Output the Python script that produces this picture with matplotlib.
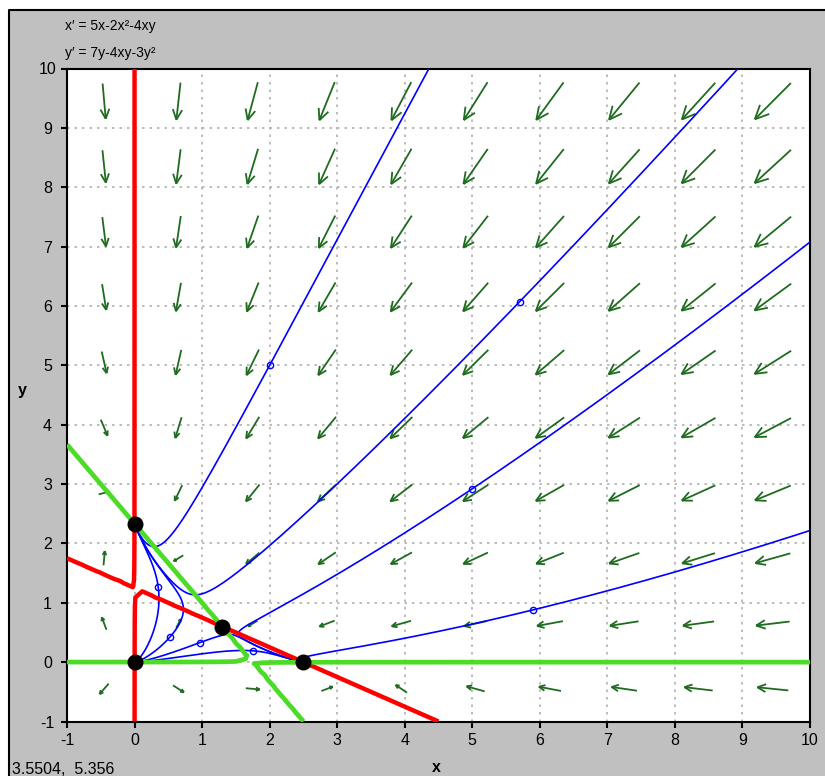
import numpy as np
import matplotlib.pyplot as plt
from matplotlib.collections import LineCollection
from matplotlib.patches import Rectangle
from matplotlib.lines import Line2D

plt.rcParams['font.family'] = ['Liberation Sans', 'DejaVu Sans']
plt.rcParams['axes.unicode_minus'] = False

# system: x' = 5x-2x^2-4xy , y' = 7y-4xy-3y^2
def fx(x, y):
    return 5 * x - 2 * x**2 - 4 * x * y

def fy(x, y):
    return 7 * y - 4 * x * y - 3 * y**2

# equilibrium points
eq_x = [0.0, 0.0, 1.3, 2.5]
eq_y = [0.0, 7 / 3, 0.6, 0.0]

# starting points of the solution curves
start_x = [2.0, 5.7, 5.0, 5.9, 0.35, 0.53, 0.97, 1.76]
start_y = [5.0, 6.07, 2.92, 0.88, 1.27, 0.43, 0.33, 0.19]

ticks = list(range(-1, 11))
eq_text = ["x\u2032 = 5x-2x\u00b2-4xy", "y\u2032 = 7y-4xy-3y\u00b2"]
cursor_text = "3.5504,  5.356"

W, H = 825, 776
fig = plt.figure(figsize=(W / 100, H / 100), dpi=100, facecolor='white')

# gray window panel with dark top/left edge
fig.add_artist(Rectangle((9 / W, 0), 1, 1 - 10 / H, transform=fig.transFigure,
                         facecolor='#c0c0c0', edgecolor='none', zorder=-10))
fig.add_artist(Line2D([9 / W, 9 / W, 1], [0, 1 - 10 / H, 1 - 10 / H],
                      transform=fig.transFigure, color='black', lw=1.5))

left, right, top, bottom = 67, 810, 68.5, 721.5
ax = fig.add_axes([left / W, 1 - bottom / H, (right - left) / W, (bottom - top) / H])
ax.set_facecolor('white')
ax.set_xlim(-1, 10)
ax.set_ylim(-1, 10)

kx = (right - left) / 11.0   # pixels per unit
ky = (bottom - top) / 11.0

# direction field
centers = -0.45 + 1.1 * np.arange(10)
segs = []
for cx in centers:
    for cy in centers:
        u, v = fx(cx, cy), fy(cx, cy)
        m = np.hypot(u, v)
        su, sv = u * kx, v * ky
        n = np.hypot(su, sv)
        dx, dy = su / n, sv / n
        L = 8.7 * m**0.268
        tail = (cx - 0.5 * L * dx / kx, cy - 0.5 * L * dy / ky)
        tip = (cx + 0.5 * L * dx / kx, cy + 0.5 * L * dy / ky)
        segs.append([tail, tip])
        h = 0.3 * L
        for a in (np.radians(25), -np.radians(25)):
            rx = -dx * np.cos(a) + dy * np.sin(a)
            ry = -dx * np.sin(a) - dy * np.cos(a)
            segs.append([tip, (tip[0] + h * rx / kx, tip[1] + h * ry / ky)])
ax.add_collection(LineCollection(segs, colors='#1f6b1f', linewidths=1.3, zorder=2))


def trace(x0, y0, sign, tmax=6.0):
    x, y, t = x0, y0, 0.0
    pts = [(x, y)]
    for _ in range(40000):
        sp = np.hypot(fx(x, y), fy(x, y))
        if sp < 1e-6:
            break
        dt = sign * min(0.002, 0.008 / sp)
        k1x, k1y = fx(x, y), fy(x, y)
        k2x, k2y = fx(x + dt / 2 * k1x, y + dt / 2 * k1y), fy(x + dt / 2 * k1x, y + dt / 2 * k1y)
        k3x, k3y = fx(x + dt / 2 * k2x, y + dt / 2 * k2y), fy(x + dt / 2 * k2x, y + dt / 2 * k2y)
        k4x, k4y = fx(x + dt * k3x, y + dt * k3y), fy(x + dt * k3x, y + dt * k3y)
        x += dt / 6 * (k1x + 2 * k2x + 2 * k3x + k4x)
        y += dt / 6 * (k1y + 2 * k2y + 2 * k3y + k4y)
        t += abs(dt)
        pts.append((x, y))
        if not (-1.5 < x < 10.5 and -1.5 < y < 10.5) or t > tmax:
            break
    return np.array(pts)


for x0, y0 in zip(start_x, start_y):
    back = trace(x0, y0, -1)[::-1]
    fwd = trace(x0, y0, 1)
    path = np.vstack([back, fwd])
    ax.plot(path[:, 0], path[:, 1], color='#0000ff', lw=1.2, zorder=3)
ax.plot(start_x, start_y, 'o', mfc='none', mec='#0000ff', ms=4.5, mew=1.0, zorder=3)

# nullclines
g = np.linspace(-1, 10, 80)
X, Y = np.meshgrid(g, g)
ax.contour(X, Y, fx(X, Y), [0], colors='#ff0000', linewidths=3.2, zorder=4)
ax.contour(X, Y, fy(X, Y), [0], colors='#4cdc28', linewidths=3.4, zorder=4)

ax.plot(eq_x, eq_y, 'o', color='black', ms=10.5, zorder=6, clip_on=False)

# axes look
ax.set_xticks(ticks)
ax.set_yticks(ticks)
ax.grid(True, ls=(0, (1.5, 3)), color='#b0b0b0', lw=1.2)
ax.set_axisbelow(True)
for s in ax.spines.values():
    s.set_linewidth(1.5)
ax.tick_params(direction='out', length=4, width=1.5, labelsize=11.5, top=False, right=False)
ax.tick_params(axis='x', pad=4)
ax.tick_params(axis='y', pad=10)
for lab in ax.get_yticklabels():
    lab.set_horizontalalignment('center')

fig.text(65 / W, 1 - 30 / H, eq_text[0], fontsize=10, va='baseline')
fig.text(65 / W, 1 - 57 / H, eq_text[1], fontsize=10, va='baseline')
fig.text(12 / W, 2 / H, cursor_text, fontsize=11.5, va='baseline')
fig.text(436 / W, 1 - 768 / H, "x", fontsize=11.5, fontweight='bold', ha='center', va='center')
fig.text(22 / W, 1 - 390 / H, "y", fontsize=11.5, fontweight='bold', ha='center', va='center')

fig.savefig('out.png', dpi=100, facecolor=fig.get_facecolor())
